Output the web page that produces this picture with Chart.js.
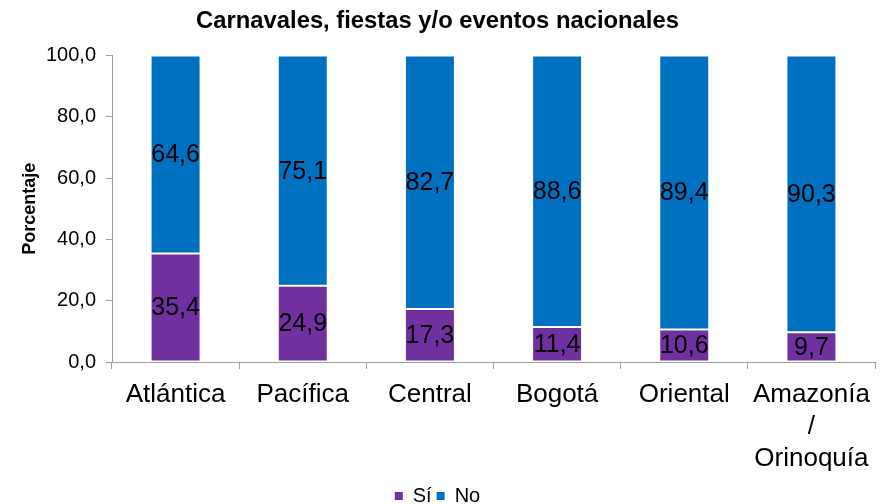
<!DOCTYPE html>
<html>
<head>
<meta charset="utf-8">
<script src="https://cdn.jsdelivr.net/npm/chart.js@4"></script>
<style>
  html, body { margin: 0; padding: 0; background: #fff; }
  #wrap { width: 890px; height: 504px; }
</style>
</head>
<body>
<div id="wrap"><canvas id="c" width="890" height="504"></canvas></div>
<script>
const categories = ['Atlántica', 'Pacífica', 'Central', 'Bogotá', 'Oriental', ['Amazonía', '/', 'Orinoquía']];
const siValues = [35.4, 24.9, 17.3, 11.4, 10.6, 9.7];
const noValues = [64.6, 75.1, 82.7, 88.6, 89.4, 90.3];
const seriesNames = ['Sí', 'No'];
const yTicks = [0, 20, 40, 60, 80, 100];

const FONT = '"Liberation Sans", Arial, sans-serif';

const fmt = v => v.toFixed(1).replace('.', ',');

const valueLabels = {
  id: 'valueLabels',
  afterDatasetsDraw(chart) {
    const ctx = chart.ctx;
    ctx.save();
    ctx.font = '25px ' + FONT;
    ctx.fillStyle = '#000';
    ctx.textAlign = 'center';
    ctx.textBaseline = 'middle';
    chart.data.datasets.forEach((ds, di) => {
      const meta = chart.getDatasetMeta(di);
      meta.data.forEach((bar, i) => {
        const p = bar.getProps(['x', 'y', 'base'], true);
        ctx.fillText(fmt(ds.data[i]), p.x, (p.y + p.base) / 2 + 1);
      });
    });
    ctx.restore();
  }
};

new Chart(document.getElementById('c'), {
  type: 'bar',
  data: {
    labels: categories,
    datasets: [
      { label: seriesNames[0], data: siValues, backgroundColor: '#7030A0', borderColor: 'rgba(255,255,255,0.85)', borderWidth: 1, borderSkipped: false, categoryPercentage: 1, barPercentage: 0.393 },
      { label: seriesNames[1], data: noValues, backgroundColor: '#0070C0', borderColor: 'rgba(255,255,255,0.85)', borderWidth: 1, borderSkipped: false, categoryPercentage: 1, barPercentage: 0.393 }
    ]
  },
  options: {
    responsive: false,
    animation: false,
    devicePixelRatio: 1,
    layout: { padding: { left: 0, right: 15, top: 0, bottom: -12 } },
    plugins: {
      title: {
        display: true,
        text: 'Carnavales, fiestas y/o eventos nacionales',
        color: '#000',
        font: { family: FONT, size: 23.8, weight: 'bold', lineHeight: 1.2 },
        padding: { top: 7, bottom: 20 }
      },
      legend: {
        position: 'bottom',
        labels: {
          color: '#000',
          font: { family: FONT, size: 20 },
          boxWidth: 8,
          boxHeight: 8,
          padding: 5,
          generateLabels: (chart) => Chart.defaults.plugins.legend.labels.generateLabels(chart).map(l => ({ ...l, strokeStyle: l.fillStyle, lineWidth: 0 }))
        }
      },
      tooltip: { enabled: false }
    },
    scales: {
      x: {
        stacked: true,
        grid: { display: true, drawOnChartArea: false, offset: true, tickLength: 7, color: '#a0a0a0' },
        border: { display: true, color: '#a0a0a0' },
        ticks: { color: '#000', font: { family: FONT, size: 26, lineHeight: 1.23 }, padding: 10, maxRotation: 0, autoSkip: false },
        afterFit: s => { s.height = 119; }
      },
      y: {
        stacked: true,
        min: 0,
        max: 100,
        afterBuildTicks: s => { s.ticks = yTicks.map(v => ({ value: v })); },
        grid: { display: true, drawOnChartArea: false, tickLength: 6, color: '#a0a0a0' },
        border: { display: true, color: '#a0a0a0' },
        ticks: { color: '#000', font: { family: FONT, size: 20 }, padding: 10, callback: v => fmt(v) },
        title: { display: true, text: 'Porcentaje', color: '#000', font: { family: FONT, size: 18, weight: 'bold' }, padding: { top: 19, bottom: 0 } },
        afterFit: s => { s.width = 112; }
      }
    }
  },
  plugins: [valueLabels]
});
</script>
</body>
</html>
